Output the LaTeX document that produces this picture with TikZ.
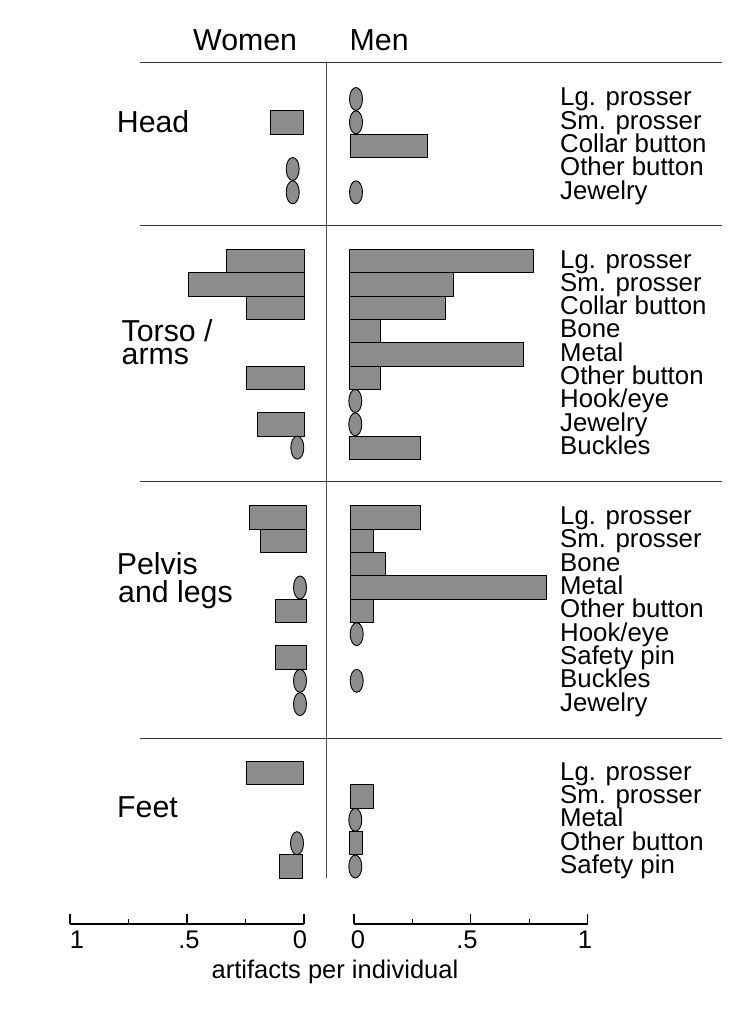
\documentclass[tikz,border=0pt]{standalone}
\usepackage{fontspec}
\setmainfont{Liberation Sans}
\definecolor{barfill}{RGB}{140,140,140}
\definecolor{sepline}{RGB}{55,55,55}
\definecolor{midline}{RGB}{85,85,85}
\tikzset{
  barbox/.style={draw=black, line width=0.9pt, fill=barfill},
  sepl/.style={draw=sepline, line width=1.3pt},
  midl/.style={draw=midline, line width=1.3pt},
  axl/.style={draw=black, line width=1.1pt},
  seclabel/.style={anchor=base west, inner sep=0pt, font=\fontsize{30.3}{31}\selectfont},
  itemlabel/.style={anchor=base west, inner sep=0pt, font=\fontsize{25.8}{26}\selectfont},
  ticklabel/.style={anchor=base, inner sep=0pt, font=\fontsize{25.5}{26}\selectfont},
}
\newcommand\mybar[3]{\draw[barbox] (#2,{#1-11.67}) rectangle (#3,{#1+11.67});}
\newcommand\myoval[2]{\draw[barbox] (#1,#2) ellipse [x radius=6.5, y radius=11.5];}
\begin{document}
\begin{tikzpicture}[x=1pt,y=-1pt]
\useasboundingbox (0,0) rectangle (745,1024);
\def\ya{99}\def\yb{261}\def\yc{517.5}\def\yd{773.2}\def\rs{23.33}
% headers
\node[seclabel] (women) at (193,51) {Women};
\node[seclabel] (men) at (349.5,51) {Men};
% separators
\draw[sepl] (140,62.7) -- (722,62.7);
\draw[sepl] (140,225.7) -- (722,225.7);
\draw[sepl] (140,481.7) -- (722,481.7);
\draw[sepl] (140,738.3) -- (722,738.3);
\draw[midl] (326.7,62.7) -- (326.7,878);
% section labels
\node[seclabel] (head) at (116.7,132.3) {Head};
\node[anchor=north west, inner sep=0pt, align=left, font=\fontsize{30.3}{23}\selectfont] (torso) at (121.5,319.6) {Torso /\\arms};
\node[seclabel] (pelvis) at (116.7,574.3) {Pelvis};
\node[seclabel] (legs) at (118,602.3) {and legs};
\node[seclabel] (feet) at (117,817.3) {Feet};
% item labels
\foreach \t [count=\i from 0] in {Lg. prosser, Sm. prosser, Collar button, Other button, Jewelry}
  \node[itemlabel] (ha\i) at (560,{\ya+\rs*\i+7}) {\t};
\foreach \t [count=\i from 0] in {Lg. prosser, Sm. prosser, Collar button, Bone, Metal, Other button, Hook/eye, Jewelry, Buckles}
  \node[itemlabel] (tb\i) at (560,{\yb+\rs*\i+7}) {\t};
\foreach \t [count=\i from 0] in {Lg. prosser, Sm. prosser, Bone, Metal, Other button, Hook/eye, Safety pin, Buckles, Jewelry}
  \node[itemlabel] (pc\i) at (560,{\yc+\rs*\i+7}) {\t};
\foreach \t [count=\i from 0] in {Lg. prosser, Sm. prosser, Metal, Other button, Safety pin}
  \node[itemlabel] (fd\i) at (560,{\yd+\rs*\i+7}) {\t};
% ---- Head
\mybar{\ya+\rs*1}{270}{303.7}
\myoval{292.7}{\ya+\rs*3}
\myoval{292.7}{\ya+\rs*4}
\myoval{356}{\ya+\rs*0}
\myoval{356}{\ya+\rs*1}
\mybar{\ya+\rs*2}{350}{427.7}
\myoval{356}{\ya+\rs*4}
% ---- Torso / arms
\mybar{\yb+\rs*0}{226.7}{304}
\mybar{\yb+\rs*1}{188.3}{304}
\mybar{\yb+\rs*2}{246}{304}
\mybar{\yb+\rs*5}{246}{304}
\mybar{\yb+\rs*7}{257.3}{304}
\myoval{297.3}{\yb+\rs*8}
\mybar{\yb+\rs*0}{349}{533.3}
\mybar{\yb+\rs*1}{349}{453.3}
\mybar{\yb+\rs*2}{349}{445.3}
\mybar{\yb+\rs*3}{349}{380.3}
\mybar{\yb+\rs*4}{349}{523.3}
\mybar{\yb+\rs*5}{349}{380.3}
\myoval{355.3}{\yb+\rs*6}
\myoval{355.3}{\yb+\rs*7}
\mybar{\yb+\rs*8}{349}{420}
% ---- Pelvis and legs
\mybar{\yc+\rs*0}{249.3}{306.7}
\mybar{\yc+\rs*1}{260}{306.7}
\myoval{300}{\yc+\rs*3}
\mybar{\yc+\rs*4}{275.3}{306.7}
\mybar{\yc+\rs*6}{275.3}{306.7}
\myoval{300}{\yc+\rs*7}
\myoval{300}{\yc+\rs*8}
\mybar{\yc+\rs*0}{350.3}{420.3}
\mybar{\yc+\rs*1}{350.3}{373.7}
\mybar{\yc+\rs*2}{350.3}{385.3}
\mybar{\yc+\rs*3}{350.3}{546.7}
\mybar{\yc+\rs*4}{350.3}{373.7}
\myoval{356.7}{\yc+\rs*5}
\myoval{356.7}{\yc+\rs*7}
% ---- Feet
\mybar{\yd+\rs*0}{246}{303.7}
\myoval{297}{\yd+\rs*3}
\mybar{\yd+\rs*4}{279}{302.7}
\mybar{\yd+\rs*1}{350}{373.7}
\myoval{355.3}{\yd+\rs*2}
\mybar{\yd+\rs*3}{349}{362}
\myoval{355.3}{\yd+\rs*4}
% ---- axes
\draw[axl] (70,924) -- (304,924);
\draw[axl] (354,924) -- (587.5,924);
\foreach \x in {70,187,304,354,470.75,587.5} \draw[axl] (\x,924) -- (\x,914);
\foreach \x in {128.5,245.5,412.4,529.1} \draw[axl] (\x,924) -- (\x,919);
\node[ticklabel] (l1) at (77,948) {1};
\node[ticklabel] (l5) at (189,948) {.5};
\node[ticklabel] (l0) at (300,948) {0};
\node[ticklabel] (r0) at (358,948) {0};
\node[ticklabel] (r5) at (467,948) {.5};
\node[ticklabel] (r1) at (585,948) {1};
\node[ticklabel] (axt) at (335,978) {artifacts per individual};
\end{tikzpicture}
\end{document}
